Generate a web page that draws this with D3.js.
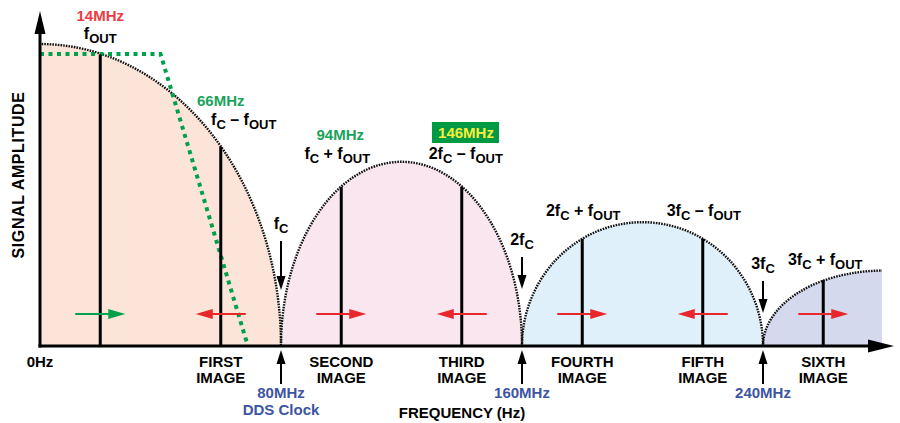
<!DOCTYPE html>
<html>
<head>
<meta charset="utf-8">
<script src="https://cdn.jsdelivr.net/npm/d3@7"></script>
<style>
  body { margin: 0; background: #fff; }
  svg { display: block; font-family: "Liberation Sans", Arial, sans-serif; font-weight: bold; }
</style>
</head>
<body>
<svg id="chart" width="900" height="423"></svg>
<script>
// frequencies as drawn on the diagram (MHz), amplitude relative to DC
const clockTicks = [0, 80, 160, 240];
const clockLabels = ["0Hz", "80MHz", "160MHz", "240MHz"];
const lobeCenter = [0, 120, 200, 280];
const lobeHalfWidth = [80, 40, 40, 40];
const lobePeak = [1, 0.61, 0.41, 0.25];
const imageFreq = [20, 60, 100, 140, 180, 220, 260];
const imageAmp = [0.965, 0.66, 0.527, 0.527, 0.355, 0.355, 0.218];
const imageNames = ["", "FIRST", "SECOND", "THIRD", "FOURTH", "FIFTH", "SIXTH"];
const imageMove = [1, -1, 1, -1, 1, -1, 1];
const filterFreq = [0, 40, 69];
const filterAmp = [0.967, 0.967, 0];
const mhzLabels = ["14MHz", "66MHz", "94MHz", "146MHz"];

const lobeColors = ["#fce5d8", "#f9e6ef", "#dff0fa", "#d5d9ed"];
const red = "#e8272d", green = "#00a14b", blue = "#3d55a3";

const chart = d3.select("#chart");
const margin = {left: 40, bottom: 77, top: 44};
const x = d3.scaleLinear().domain([0, 280]).range([margin.left, 883.5]);
const y = d3.scaleLinear().domain([0, 1]).range([423 - margin.bottom, margin.top]);
const y0 = y(0);

chart.append("defs").append("clipPath").attr("id", "plot")
  .append("rect").attr("x", x(0)).attr("y", 0).attr("width", 882 - x(0)).attr("height", y0);

const lobeArc = (i, close) => {
  const rx = x(lobeCenter[i] + lobeHalfWidth[i]) - x(lobeCenter[i]);
  const ry = y0 - y(lobePeak[i]);
  const a = x(lobeCenter[i]) - rx, b = x(lobeCenter[i]) + rx;
  return `M${a},${y0} A${rx},${ry} 0 0 1 ${b},${y0}` + (close ? "Z" : "");
};

const plot = chart.append("g").attr("clip-path", "url(#plot)");
plot.selectAll(".lobe").data(lobeCenter).enter().append("path")
  .attr("class", "lobe")
  .attr("d", (d, i) => lobeArc(i, true))
  .style("fill", (d, i) => lobeColors[i]);
plot.selectAll(".env").data(lobeCenter).enter().append("path")
  .attr("class", "env")
  .attr("d", (d, i) => lobeArc(i, false))
  .style("fill", "none").style("stroke", "#111")
  .style("stroke-width", 2.4).style("stroke-dasharray", "1.6,1.1");

// reconstruction filter
chart.append("path")
  .datum(filterFreq.map((f, i) => [f, filterAmp[i]]))
  .attr("d", d3.line().x(d => x(d[0])).y(d => y(d[1])))
  .style("fill", "none").style("stroke", green)
  .style("stroke-width", 4).style("stroke-dasharray", "4,4.5");

// spectral lines
chart.selectAll(".spur").data(imageFreq).enter().append("line")
  .attr("class", "spur")
  .attr("x1", d => x(d)).attr("x2", d => x(d))
  .attr("y1", y0).attr("y2", (d, i) => y(imageAmp[i]))
  .style("stroke", "#000").style("stroke-width", 3);

// direction arrows
const arrowY = 314;
imageFreq.forEach((f, i) => {
  const col = i === 0 ? green : red;
  const dir = imageMove[i];
  const tip = x(f) + dir * 25, tail = x(f) - dir * 25;
  chart.append("line")
    .attr("x1", tail).attr("x2", tip - dir * 12)
    .attr("y1", arrowY).attr("y2", arrowY)
    .style("stroke", col).style("stroke-width", 2);
  chart.append("path")
    .attr("d", `M${tip},${arrowY} L${tip - dir * 17},${arrowY - 5} L${tip - dir * 17},${arrowY + 5}Z`)
    .style("fill", col);
});

// axes
chart.append("line").attr("x1", x(0)).attr("x2", x(0)).attr("y1", y0 + 1.5).attr("y2", 30)
  .style("stroke", "#000").style("stroke-width", 3);
chart.append("path").attr("d", `M${x(0)},11 L${x(0) - 5.5},34 L${x(0) + 5.5},34Z`).style("fill", "#000");
chart.append("line").attr("x1", x(0) - 1.5).attr("x2", 875).attr("y1", y0).attr("y2", y0)
  .style("stroke", "#000").style("stroke-width", 3);
chart.append("path").attr("d", `M894,${y0} L868,${y0 - 6.5} L868,${y0 + 6.5}Z`).style("fill", "#000");

// clock arrows below axis
clockTicks.slice(1).forEach(f => {
  chart.append("line").attr("x1", x(f)).attr("x2", x(f)).attr("y1", 360).attr("y2", 384)
    .style("stroke", "#000").style("stroke-width", 2);
  chart.append("path").attr("d", `M${x(f)},350 L${x(f) - 4.5},364 L${x(f) + 4.5},364Z`).style("fill", "#000");
});

const text = (tx, ty, str, size, color, anchor) =>
  chart.append("text").attr("x", tx).attr("y", ty)
    .style("font-size", size + "px").style("fill", color || "#000")
    .style("text-anchor", anchor || "middle").text(str);

// formula labels: parts alternate normal / subscript
const formula = (cx, by, parts) => {
  const t = chart.append("text").attr("x", cx).attr("y", by)
    .style("font-size", "16px").style("text-anchor", "middle");
  parts.forEach((p, i) => {
    const sub = i % 2 === 1;
    t.append("tspan").text(p)
      .style("font-size", sub ? "13px" : "16px")
      .attr("dy", sub ? 4 : (i > 0 ? -4 : 0));
  });
};

clockLabels.forEach((l, i) => {
  if (i === 0) text(x(0), 367, l, 15);
  else text(x(clockTicks[i]), 398, l, 15, blue);
});
text(x(80), 415, "DDS Clock", 15, blue);

imageNames.forEach((n, i) => {
  if (!n) return;
  text(x(imageFreq[i]), 367, n, 15);
  text(x(imageFreq[i]), 383, "IMAGE", 15);
});

text(462, 418, "FREQUENCY (Hz)", 15);
chart.append("text").attr("transform", "translate(24,175) rotate(-90)")
  .style("font-size", "16px").style("letter-spacing", "0.6px")
  .style("text-anchor", "middle").text("SIGNAL AMPLITUDE");

// MHz annotations
text(x(imageFreq[0]), 21, mhzLabels[0], 15, "#ee3b43");
text(x(imageFreq[1]), 106, mhzLabels[1], 15, "#1aa35a");
text(x(imageFreq[2]) - 1, 140, mhzLabels[2], 15, "#1aa35a");
chart.append("rect").attr("x", 432).attr("y", 122).attr("width", 67).attr("height", 21).style("fill", "#009a44");
text(466, 138, mhzLabels[3], 15, "#fbee3a");

formula(x(imageFreq[0]), 39, ["f", "OUT"]);
formula(x(imageFreq[1]) + 23, 125, ["f", "C", " – f", "OUT"]);
formula(x(imageFreq[2]) - 4, 159, ["f", "C", " + f", "OUT"]);
formula(x(imageFreq[3]) + 4, 159, ["2f", "C", " – f", "OUT"]);
formula(x(imageFreq[4]) + 1, 216, ["2f", "C", " + f", "OUT"]);
formula(x(imageFreq[5]) + 1, 216, ["3f", "C", " – f", "OUT"]);
formula(x(imageFreq[6]) + 2, 265, ["3f", "C", " + f", "OUT"]);

// clock multiples above the lobes
const fcMarks = [["f", 80, 229, 241, 290], ["2f", 160, 245, 257, 289], ["3f", 240, 269, 281, 313]];
fcMarks.forEach(m => {
  formula(x(m[1]), m[2], [m[0], "C"]);
  chart.append("line").attr("x1", x(m[1])).attr("x2", x(m[1])).attr("y1", m[3]).attr("y2", m[4] - 10)
    .style("stroke", "#000").style("stroke-width", 2);
  chart.append("path").attr("d", `M${x(m[1])},${m[4]} L${x(m[1]) - 4.5},${m[4] - 14} L${x(m[1]) + 4.5},${m[4] - 14}Z`)
    .style("fill", "#000");
});
</script>
</body>
</html>
